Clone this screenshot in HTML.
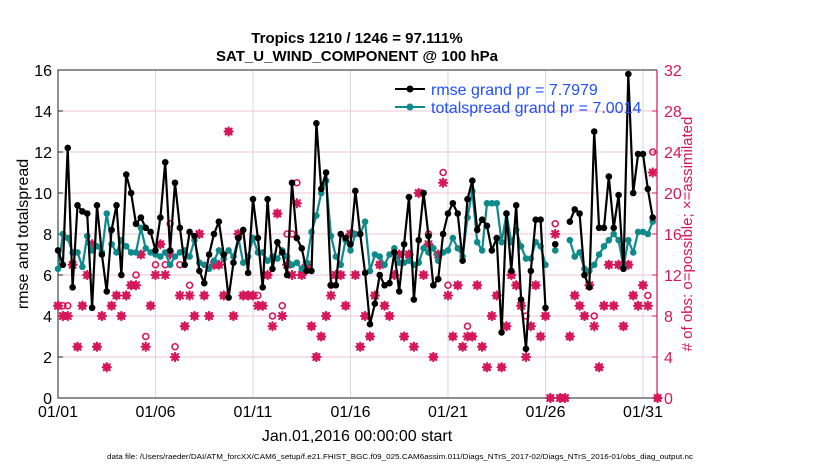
<!DOCTYPE html>
<html><head><meta charset="utf-8"><style>
body{margin:0;background:#fff;}
svg{display:block;font-family:"Liberation Sans",sans-serif;}
</style></head><body>
<svg id="chart" width="830" height="470" viewBox="0 0 830 470">
<g>
<text x="357" y="43" text-anchor="middle" font-size="15" font-weight="bold">Tropics 1210 / 1246 = 97.111%</text>
<text x="357" y="61" text-anchor="middle" font-size="15" font-weight="bold">SAT_U_WIND_COMPONENT @ 100 hPa</text>
</g>
<g id="grid"></g>
<g id="axes"></g>
<g id="obs"></g>
<g id="lines"></g>
<g>
<g>
<line x1="395" y1="89" x2="425" y2="89" stroke="#000" stroke-width="2"/><circle cx="410" cy="89" r="3.5" fill="#000"/>
<text x="431" y="95" font-size="16" fill="#1f4fff">rmse grand pr = 7.7979</text></g>
<g>
<line x1="395" y1="107" x2="425" y2="107" stroke="#0f8a8a" stroke-width="2"/><circle cx="410" cy="107" r="3.5" fill="#0f8a8a"/>
<text x="431" y="113" font-size="16" fill="#1f4fff">totalspread grand pr = 7.0014</text></g>
</g>
<text transform="translate(28,234) rotate(-90)" text-anchor="middle" font-size="16">rmse and totalspread</text>
<text transform="translate(692,234) rotate(-90)" text-anchor="middle" font-size="15" fill="#d6175a"># of obs: o=possible; ×=assimilated</text>
<text x="357" y="441" text-anchor="middle" font-size="16">Jan.01,2016 00:00:00 start</text>
<text x="400" y="459" text-anchor="middle" font-size="7" textLength="586" lengthAdjust="spacingAndGlyphs">data file: /Users/raeder/DAI/ATM_forcXX/CAM6_setup/f.e21.FHIST_BGC.f09_025.CAM6assim.011/Diags_NTrS_2017-02/Diags_NTrS_2016-01/obs_diag_output.nc</text>
</svg>
<script>
const xTickLabels=["01/01","01/06","01/11","01/16","01/21","01/26","01/31"];
const xTickDays=[0,5,10,15,20,25,30];
const yTicks=[0,2,4,6,8,10,12,14,16];
const y2Ticks=[0,4,8,12,16,20,24,28,32];
const rmse=[7.2,6.5,12.2,5.4,9.4,9.1,9.0,4.4,9.4,7.0,5.2,8.2,9.4,6.0,10.9,10.0,8.5,8.8,8.3,8.1,7.2,8.8,11.5,7.2,10.5,8.3,6.5,8.1,7.9,6.2,5.6,7.0,8.0,8.6,7.0,4.9,6.6,7.8,8.2,6.1,9.7,
7.8,5.4,9.7,6.3,7.6,7.1,6.0,10.5,7.8,7.3,6.2,6.2,13.4,10.2,11.0,5.5,5.5,8.0,7.8,7.5,10.1,8.0,6.1,3.6,4.6,6.0,5.5,5.6,7.1,5.2,7.5,9.8,4.8,7.7,10.0,7.9,5.5,5.8,8.0,9.0,9.5,9.0,
6.7,9.7,10.6,8.2,8.7,8.4,7.2,7.8,3.2,9.0,6.2,9.4,4.8,2.4,6.2,8.7,8.7,4.4,null,7.5,null,null,
8.6,9.2,9.0,6.0,5.4,13.0,8.3,8.3,10.8,8.3,9.9,6.3,15.8,10.0,11.9,11.9,10.2,8.8];
const spread=[6.3,8.0,7.8,7.1,7.1,6.4,7.9,7.2,7.4,7.1,9.0,7.5,7.1,7.7,7.4,7.1,7.1,8.3,7.3,7.1,7.0,6.9,7.1,6.5,6.9,7.1,7.2,6.9,7.7,6.6,6.5,6.3,6.7,7.2,6.8,7.2,6.9,7.8,6.6,6.9,7.8,
7.1,7.1,6.7,6.9,6.8,7.2,6.9,6.5,6.6,6.3,6.6,8.1,8.9,10.0,10.6,7.9,6.9,6.5,7.7,7.2,8.0,8.0,8.6,6.2,7.0,6.9,6.5,7.0,7.3,6.6,6.6,6.7,6.5,6.6,7.3,7.1,7.3,6.7,7.1,7.2,7.8,7.3,
6.9,8.8,10.1,7.6,7.2,9.5,9.5,9.5,7.6,9.0,7.6,8.2,7.4,6.8,6.8,7.6,7.4,6.5,null,7.2,null,null,
7.7,6.9,7.1,6.3,6.2,6.5,7.0,7.4,7.7,8.0,7.7,6.4,7.7,7.1,8.1,8.1,8.0,8.6];
const assimilated=[9,8,8,13,5,9,12,15,5,8,3,9,10,8,10,11,11,14,5,9,12,15,12,14,4,10,7,10,8,16,10,8,13,13,10,26,8,16,10,10,10,
9,9,12,7,18,8,13,12,19,12,13,7,4,6,8,10,12,12,9,16,12,5,8,6,10,13,9,8,12,14,6,14,5,20,12,15,4,14,21,10,6,11,
5,6,6,11,5,3,8,10,3,7,12,11,9,4,7,11,6,8,0,16,0,0,
6,10,9,8,11,7,3,9,13,9,13,7,13,10,9,11,9,22,0];
const possible=[9,9,9,13,5,9,12,15,5,8,3,9,10,8,10,11,12,14,6,9,13,15,13,17,5,13,7,11,8,16,10,8,13,13,10,26,8,16,10,10,10,
10,9,12,8,18,9,16,16,21,12,13,7,4,6,8,11,12,12,9,16,12,5,8,6,10,13,9,8,12,14,6,14,5,20,12,16,4,14,22,11,6,11,
5,7,6,11,5,3,8,10,3,7,12,11,9,8,7,11,6,8,0,17,0,0,
6,10,9,8,11,8,3,9,13,9,13,7,13,10,9,11,10,24,0];

const NS="http://www.w3.org/2000/svg";
const L=58,R=657,T=70,B=398,XMAX=30.72;
const X=d=>L+(d/XMAX)*(R-L);
const Y=v=>B-(v/16)*(B-T);
const Y2=c=>B-(c/32)*(B-T);
const PINK="#d6175a",TEAL="#0f8a8a";
function mk(tag,attrs,parent){const e=document.createElementNS(NS,tag);for(const k in attrs)e.setAttribute(k,attrs[k]);parent.appendChild(e);return e;}
const grid=document.getElementById('grid'),axes=document.getElementById('axes'),obs=document.getElementById('obs'),lines=document.getElementById('lines');
yTicks.forEach(v=>{if(v>0&&v<16){const l=mk('line',{x1:L,x2:R,y1:Y(v),y2:Y(v),stroke:'#f2c6d6','stroke-width':1},grid);

}
const t=mk('text',{x:L-6,y:Y(v)+6,'text-anchor':'end','font-size':16},axes);t.textContent=v;


mk('line',{x1:L,x2:L+5,y1:Y(v),y2:Y(v),stroke:'#222'},axes);});
xTickDays.forEach((d,i)=>{if(d>0){const l=mk('line',{x1:X(d),x2:X(d),y1:T,y2:B,stroke:'#d8d8d8','stroke-width':1},grid);

}
const t=mk('text',{x:X(d),y:417,'text-anchor':'middle','font-size':16},axes);t.textContent=xTickLabels[i];

});
y2Ticks.forEach(c=>{const t=mk('text',{x:R+7,y:Y2(c)+6,'font-size':16,fill:PINK},axes);t.textContent=c;


mk('line',{x1:R-5,x2:R,y1:Y2(c),y2:Y2(c),stroke:PINK},axes);});
mk('path',{d:`M${R},${T}H${L}V${B}H${R}`,fill:'none',stroke:'#222','stroke-width':1},axes);
mk('line',{x1:R,x2:R,y1:T,y2:B,stroke:PINK,'stroke-width':1.2},axes);

possible.forEach((c,i)=>{const d=i/4;
const o=mk('circle',{cx:X(d),cy:Y2(c),r:3,fill:'none',stroke:PINK,'stroke-width':1.6},obs);

});
assimilated.forEach((c,i)=>{const x=X(i/4),y=Y2(c),s=4;
const p=mk('path',{d:`M${x-s},${y}H${x+s}M${x},${y-s}V${y+s}M${x-3},${y-3}L${x+3},${y+3}M${x-3},${y+3}L${x+3},${y-3}`,stroke:PINK,'stroke-width':2.2,'stroke-linecap':'round'},obs);

});

function series(arr,col,name){let d='';let pen=false;
arr.forEach((v,i)=>{if(v===null){pen=false;return;}d+=(pen?'L':'M')+X(i/4).toFixed(1)+','+Y(v).toFixed(1);pen=true;});
const p=mk('path',{d:d,fill:'none',stroke:col,'stroke-width':2.2,'stroke-linejoin':'round'},lines);


arr.forEach((v,i)=>{if(v===null)return;
const c=mk('circle',{cx:X(i/4),cy:Y(v),r:3.3,fill:col},lines);

});}
series(spread,TEAL,'totalspread');
series(rmse,'#000','rmse');
</script>
</body></html>
